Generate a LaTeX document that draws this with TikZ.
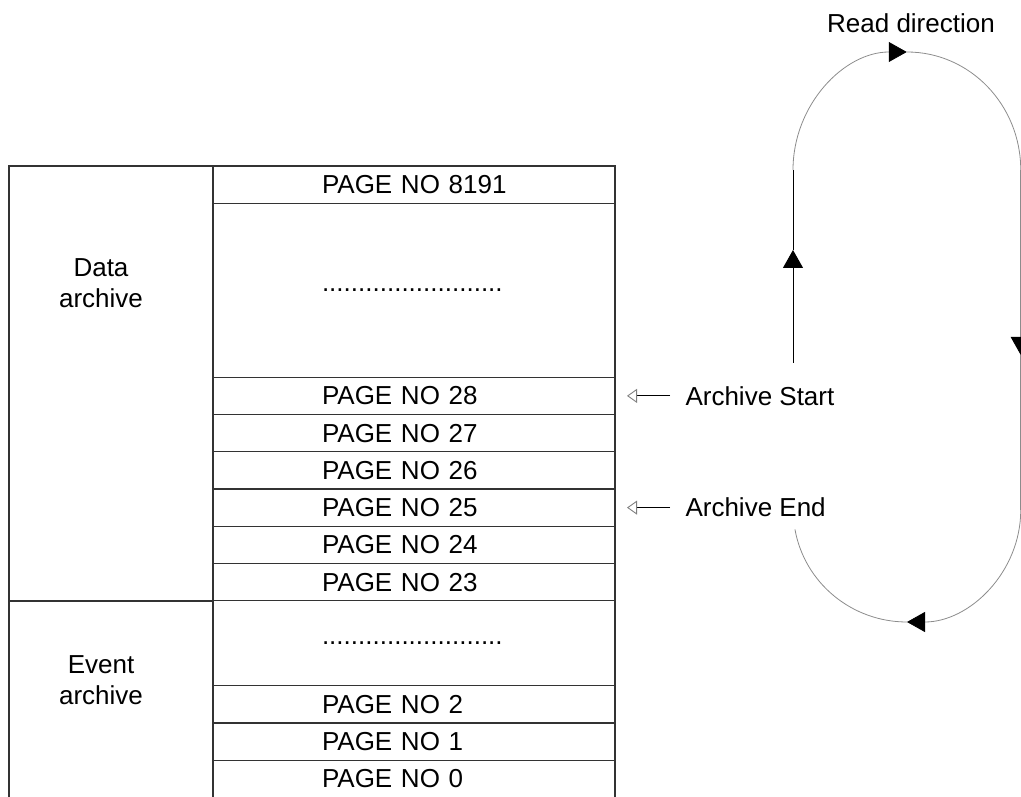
\documentclass[tikz,border=0pt]{standalone}
\usepackage{fontspec}
\setmainfont{Liberation Sans}
\usetikzlibrary{arrows.meta,positioning}
\definecolor{tabline}{HTML}{333333}
\definecolor{loopgray}{HTML}{8C8C8C}
\tikzset{
  cell/.style={draw=tabline,line width=1.3pt,outer sep=0pt,inner sep=0pt,minimum width=402pt,minimum height=37.25pt,text width=184pt,align=left},
  side/.style={draw=tabline,line width=1.3pt,outer sep=0pt,inner sep=0pt,minimum width=204pt},
  ptr/.style={-{Triangle[open,length=10pt,width=14pt,gray]},line width=0.9pt}
}
\begin{document}
\begin{tikzpicture}[x=1pt,y=1pt,font=\fontsize{26}{31}\selectfont,>={Triangle[length=18pt,width=20pt,black]}]
        \useasboundingbox (0,0) rectangle (1021,796);
        \node[side,minimum height=435pt] (data) at (111,412.5) {};
        \node[side,minimum height=196.5pt] (event) at (111,96.75) {};
        \node[align=center] (datalbl) at (101,512.5) {Data\\archive};
        \node[align=center] (eventlbl) at (101,116) {Event\\archive};
        \node[cell] (p8191) at (414,611.375) {\mbox{PAGE NO 8191}};
        \node[cell,minimum height=174pt,below=0pt of p8191] (dotsa) {.........................};
        \foreach \n/\prev in {28/dotsa,27/p28,26/p27,25/p26,24/p25,23/p24}
          \node[cell,below=0pt of \prev] (p\n) {\mbox{PAGE NO \n}};
        \node[cell,minimum height=85pt,below=0pt of p23] (dotsb) {.........................};
        \foreach \n/\prev in {2/dotsb,1/p2,0/p1}
          \node[cell,below=0pt of \prev] (p\n) {\mbox{PAGE NO \n}};
        \node[anchor=west] (astart) at ([xshift=67pt]p28.east) {Archive Start};
        \node[anchor=west] (aend) at ([xshift=67pt]p25.east) {Archive End};
        \draw[ptr] ([xshift=-12pt]astart.west) -- ([xshift=12pt]p28.east);
        \draw[ptr] ([xshift=-12pt]aend.west) -- ([xshift=12pt]p25.east);
        \node (readdir) at (911,773) {Read direction};
        \draw[->,line width=1pt] (793,433) -- (793,546);
        \draw[line width=1pt] (793,546) -- (793,626);
        \draw[->,loopgray,line width=0.8pt] (793,626) arc[start angle=180,end angle=90,x radius=113.75,y radius=118];
        \draw[loopgray,line width=0.8pt] (907,744) arc[start angle=90,end angle=0,x radius=113.75,y radius=118];
        \draw[->,loopgray,line width=0.8pt] (1020.75,626) -- (1020.75,441);
        \draw[loopgray,line width=0.8pt] (1020.75,441) -- (1020.75,286);
        \draw[->,loopgray,line width=0.8pt] (1020.75,286) arc[start angle=0,end angle=-90,x radius=113.75,y radius=112];
        \draw[loopgray,line width=0.8pt] (907,174) arc[start angle=-90,end angle=-170,x radius=113.75,y radius=112];
        \end{tikzpicture}
\end{document}
